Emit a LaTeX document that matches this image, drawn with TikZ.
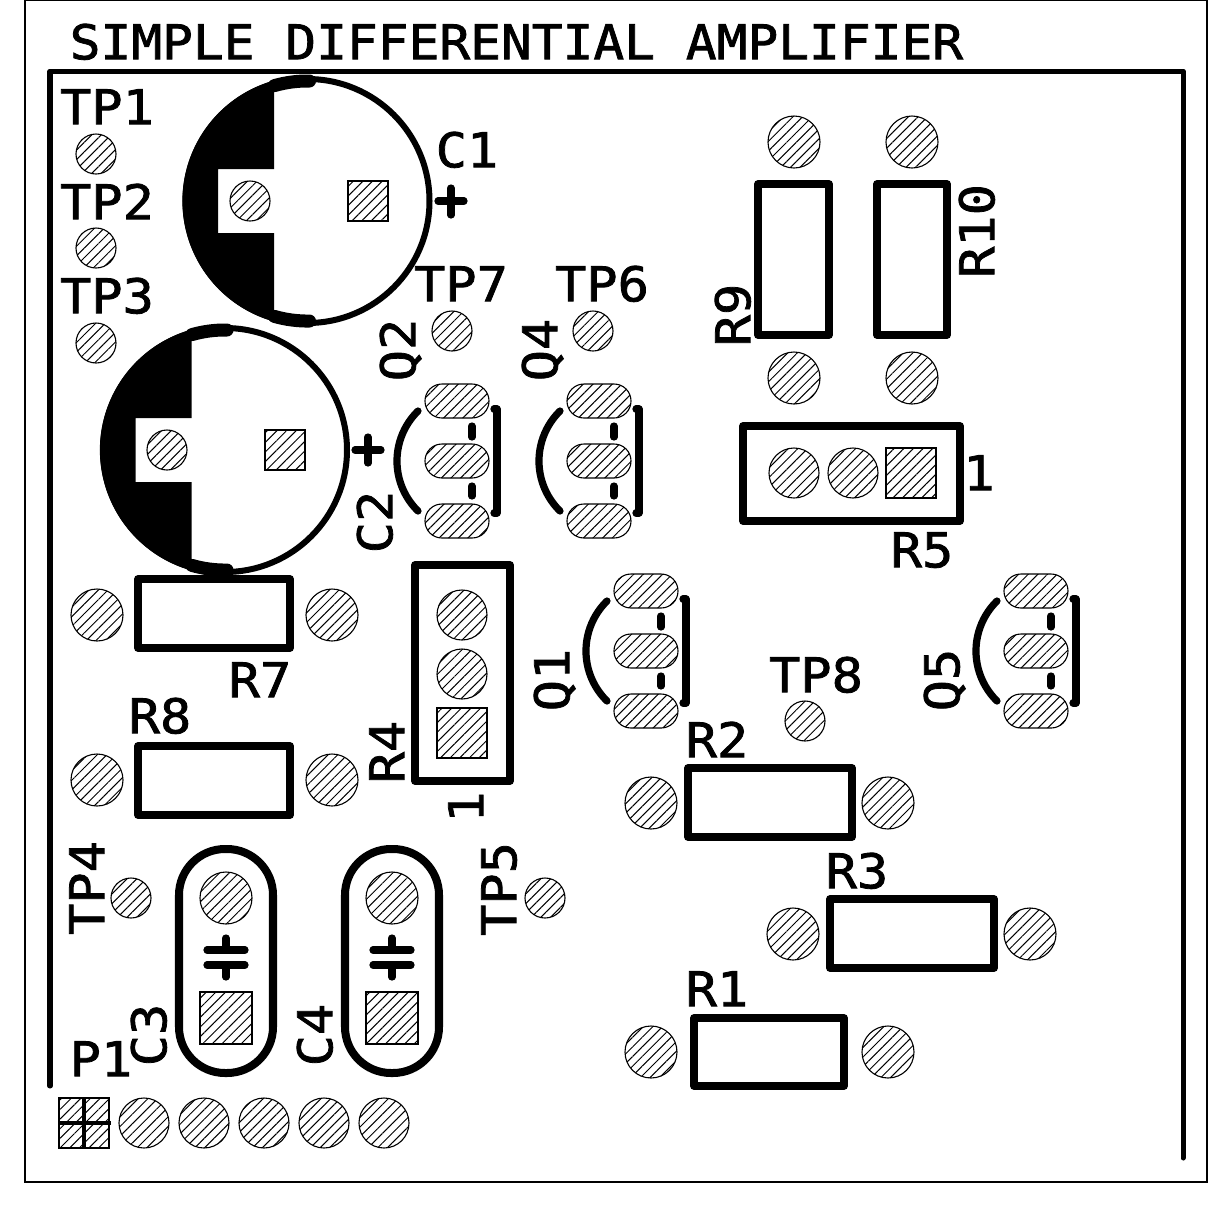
\documentclass[tikz,border=0pt]{standalone}
\usepackage{fontspec}
\usetikzlibrary{patterns.meta}
\newfontfamily\silkfont[FakeStretch=1.087,FakeBold=1.6]{DejaVu Sans Mono}
\newfontfamily\titlefont[FakeStretch=1.07,FakeBold=1.6]{DejaVu Sans Mono}
\tikzset{
	pad/.style={draw=black,line width=0.11mm,pattern={Lines[angle=45,distance=0.68mm,line width=0.1mm]}},
	silk/.style={line width=0.5mm,line cap=round,line join=round},
	heavy/.style={line width=0.72mm,line cap=round,line join=round},
	label/.style={inner sep=0pt,text height=9.8pt,text depth=0pt,font=\silkfont\fontsize{13.6pt}{14pt}\selectfont},
}
\begin{document}
\begin{tikzpicture}[x=0.01cm,y=-0.01cm]
	\useasboundingbox (0,0) rectangle (1208,1208);
	\draw[line width=0.13mm] (25,0) rectangle (1207,1182);
	\draw[silk] (50,1086) -- (50,71) -- (1183,71) -- (1183,1158);
	\node[label,anchor=west,font=\titlefont\fontsize{13.6pt}{14pt}\selectfont] (title) at (69,42) {SIMPLE DIFFERENTIAL AMPLIFIER};
	\foreach \px/\py in {96/154,96/248,96/343,452/331,593/331,805/721,131/898,545/898,250/201,167/450}
		\draw[pad] (\px,\py) circle (20);
	\foreach \px/\py in {368/201,285/450}
		\draw[pad] (\px-20,\py-20) rectangle (\px+20,\py+20);
	\foreach \px/\py in {794/142,794/378,912/142,912/378,97/615,332/615,97/780,332/780,651/803,888/803,793/934,1030/934,651/1052,888/1052,226/898,392/898}
		\draw[pad] (\px,\py) circle (26);
	\foreach \px/\py in {794/473,853/473,462/615,462/674,144/1123,204/1123,264/1123,324/1123,384/1123}
		\draw[pad] (\px,\py) circle (25);
	\foreach \px/\py in {911/473,462/733,84/1123}
		\draw[pad] (\px-25,\py-25) rectangle (\px+25,\py+25);
	\foreach \px/\py in {226/1018,392/1018}
		\draw[pad] (\px-26,\py-26) rectangle (\px+26,\py+26);
	\foreach \ax/\ay/\bx/\by in {758/184/829/335,877/184/947/335,743/426/960/521,138/579/290/648,138/746/290/815,415/565/510/781,688/768/852/837,830/899/994/968,694/1018/844/1086}
		\draw[line width=0.75mm,line join=round] (\ax,\ay) rectangle (\bx,\by);
	\foreach \cx/\cy in {307.5/201,225/450} {
		\draw[line width=0.6mm] (\cx,\cy) circle (122);
		\fill (\cx-33.5,\cy-120.4) arc (-105.5:-254.5:125) -- (\cx-33.5,\cy+32) -- (\cx-89.5,\cy+32) -- (\cx-89.5,\cy-32) -- (\cx-33.5,\cy-32) -- cycle;
		\draw[line width=1.3mm,line cap=round] (\cx+2,\cy-120) arc (-89:-106:120);
		\draw[line width=1.3mm,line cap=round] (\cx+2,\cy+120) arc (89:106:120);
	}
	\draw[heavy] (438,201) -- (464,201) (451,188) -- (451,215);
	\draw[heavy] (355,450) -- (381,450) (368,437) -- (368,463);
	\foreach \qx/\qy in {457/461,599/461,646/651,1036/651} {
		\foreach \dy in {-60,0,60}
			\draw[pad,rounded corners=1.69mm] (\qx-32,\qy+\dy-17) rectangle (\qx+32,\qy+\dy+17);
		\draw[heavy] (\qx+37,\qy-52) -- (\qx+40,\qy-52) -- (\qx+40,\qy+52) -- (\qx+37,\qy+52);
		\draw[heavy] (\qx+15,\qy-35) -- (\qx+15,\qy-24) (\qx+15,\qy+25) -- (\qx+15,\qy+35);
		\draw[heavy] (\qx-39,\qy-50) arc (-134.4:-225.6:70);
	}
	\foreach \cx in {226,392} {
		\draw[line width=0.8mm,rounded corners=4.6mm] (\cx-47,849) rectangle (\cx+47,1073);
		\draw[heavy] (\cx-19,950) -- (\cx+19,950) (\cx-19,965) -- (\cx+19,965) (\cx,938) -- (\cx,950) (\cx,965) -- (\cx,977);
	}
	\draw[line width=0.42mm] (58,1123) -- (111,1123) (84,1097) -- (84,1149);
	\foreach \nm/\tx/\lx/\ly in {tpa/TP1/107/107,tpb/TP2/107/202,tpc/TP3/107/296,tpg/TP7/461/284,tpf/TP6/602/284,tph/TP8/816/675,ca/C1/467/150,rg/R7/260/680,rh/R8/160/716,re/R5/922/550,oa/1/979/473,rb/R2/717/740,rc/R3/857/871,ra/R1/717/989,pa/P1/101/1059}
		\node[label] (\nm) at (\lx,\ly) {\tx};
	\foreach \nm/\tx/\lx/\ly in {tpd/TP4/87/888,tpe/TP5/499/889,cb/C2/375/522,qb/Q2/398/350,qd/Q4/540/350,ri/R9/733/315,rj/R10/977/231,rd/R4/387/752,ob/1/466/807,qa/Q1/552/680,qe/Q5/942/680,cc/C3/149/1035,cd/C4/315/1035}
		\node[label,rotate=90] (\nm) at (\lx,\ly) {\tx};
\end{tikzpicture}
\end{document}
